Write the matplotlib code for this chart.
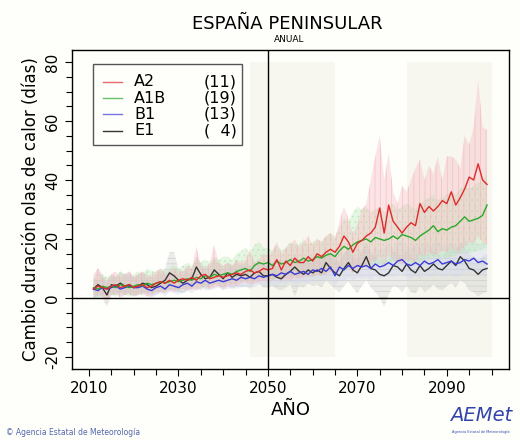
import numpy as np
import matplotlib
matplotlib.use("Agg")
import matplotlib.pyplot as plt
from matplotlib.patches import Rectangle

# Years of the projection
years = list(range(2011, 2100))

# Ensemble means (change in heat wave duration, days)
a2_mean = [3, 4, 3.5, 3, 4, 4.5, 3.5, 4, 4.5, 3.5,
           4, 4.5, 3.5, 4, 5, 5.5, 5, 6, 5, 6,
           6.5, 6, 7, 6, 7.5, 8, 6.5, 7, 7.5, 7,
           7.5, 8, 8.5, 8, 9, 9.5, 8.5, 9, 10, 9.5,
           10, 13, 9.5, 12.5, 11, 13.5, 12, 12, 14, 12.5,
           15, 14, 15.5, 16.5, 15.5, 17.5, 21, 19, 15.5, 18.5,
           19.5, 21, 22, 24, 30.5, 22, 31.5, 26, 24, 22,
           24, 25.5, 24.5, 32, 29, 31, 29.5, 31, 33, 32,
           36, 31.5, 34, 37, 41, 40, 45.5, 40, 38.5]
a1b_mean = [3.5, 3, 4, 3.5, 4, 3.5, 4.5, 4, 3.5, 4,
            4.5, 4, 5, 4.5, 5, 5.5, 5, 5.5, 6, 5.5,
            6, 6.5, 6, 7, 6.5, 7.5, 7, 8, 7.5, 8,
            8.5, 8, 9, 9.5, 10, 9, 11, 12, 11.5, 12,
            11, 12.5, 11.5, 12, 13, 12, 12.5, 13.5, 12.5, 13,
            14, 13.5, 14.5, 15, 14, 16, 17.5, 16.5, 18, 19,
            19.5, 20, 19, 20.5, 20, 19.5, 20, 21, 20, 21.5,
            21, 20.5, 19.5, 21, 22, 23, 24.5, 22.5, 23.5, 23,
            24, 24.5, 26, 27.5, 26, 26.5, 27, 28, 31.5]
b1_mean = [3, 2.5, 3.5, 3, 3.5, 4, 3, 3.5, 4, 3.5,
           3.5, 4, 3, 2.5, 3.5, 4, 3, 4.5, 4, 3.5,
           4.5, 5, 4, 5.5, 5, 6, 5, 5.5, 6, 5.5,
           6, 6.5, 6, 7, 6.5, 7, 6.5, 7.5, 7, 7.5,
           8, 7.5, 8.5, 8, 9, 8, 8.5, 9, 8, 9.5,
           9, 10, 9, 10.5, 7.5, 10.5, 9.5, 11, 10, 11,
           10.5, 11, 10, 11.5, 10.5, 11, 12, 11, 12.5, 13,
           11.5, 11, 12, 11, 12.5, 11.5, 12, 13, 11.5, 12,
           12.5, 11.5, 12, 13, 12.5, 13.5, 12, 12.5, 11.5]
e1_mean = [3, 4.5, 3.5, 1, 4.5, 4, 5, 4, 4.5, 3.5,
           4, 5, 4.5, 3.5, 4, 5, 6, 8.5, 7.5, 6,
           5, 6, 6.5, 10.5, 8, 6.5, 7, 9.5, 8, 6.5,
           8.5, 7, 8, 7.5, 8, 7, 8.5, 9, 7.5, 7.5,
           8, 7, 6.5, 8, 9, 10.5, 9, 8, 9.5, 8.5,
           9.5, 8.5, 12, 10, 8.5, 7.5, 10, 12, 9.5, 8.5,
           11, 14, 10, 9.5, 8, 7.5, 8.5, 11, 10.5, 9,
           11.5, 9.5, 8.5, 11, 9, 10, 11.5, 10, 9.5, 11,
           12.5, 11, 14, 12.5, 10, 9.5, 8, 9.5, 10]

# Ensemble spread (upper / lower envelopes)
a2_hi = [8, 10, 7, 6, 8, 9, 7, 8, 9, 7,
         8, 9, 7, 8, 9, 10, 8, 9, 10, 9,
         9, 11, 10, 17.5, 11, 10, 12, 18, 12, 11,
         12, 11, 13, 12, 13, 16.5, 12, 13, 15, 14,
         16, 19, 15, 17, 18, 20, 17, 19, 21, 18,
         20, 19, 21, 22, 20, 26, 31, 27, 22, 25,
         30, 32, 40, 48, 55, 40, 49, 36, 32, 38,
         36, 40, 44, 47, 40, 45, 42, 48, 40, 48,
         48, 47, 44, 55, 52, 58, 74, 58, 57]
a2_lo = [0, 1, 0.5, -1, 1, 1.5, 0, 1, 1.5, 0.5,
         1, 1.5, 0.5, 1, 2, 2, 1.5, 2.5, 2, 2.5,
         3, 2.5, 3, 2.5, 3.5, 4, 3, 3.5, 4, 3.5,
         4, 4.5, 4, 5, 5.5, 4.5, 5, 5.5, 6, 5.5,
         6, 7, 5.5, 6.5, 6, 7, 6.5, 7, 7.5, 7,
         8, 7.5, 8, 9, 8.5, 9, 11, 10, 8.5, 10,
         10.5, 11, 12, 12.5, 14, 11, 15, 13, 12, 11.5,
         12.5, 13, 12, 15, 14, 15.5, 14.5, 15, 16, 15.5,
         17, 15.5, 16, 17.5, 19, 18.5, 21, 19, 18]
a1b_hi = [7, 6, 8, 7, 8, 7, 9, 8, 7, 8,
          9, 8, 10, 9, 9, 10, 9, 10, 11, 10,
          11, 12, 11, 13, 12, 13, 12, 14, 13, 14,
          14, 13, 15, 16, 17, 15, 18, 19, 17, 17,
          16, 18, 16, 17, 19, 18, 18, 20, 18, 19,
          20, 19, 21, 22, 21, 24, 27, 26, 29, 31,
          30, 31, 29, 30, 31, 29, 30, 32, 30, 31,
          32, 31, 30, 32, 33, 34, 35, 33, 34, 35,
          36, 35, 37, 38, 37, 38, 39, 40, 42]
a1b_lo = [0.5, 0, 1, 0.5, 1, 0.5, 1.5, 1, 0.5, 1,
          1.5, 1, 2, 1.5, 2, 2.5, 2, 2.5, 3, 2.5,
          3, 3.5, 3, 3.5, 3, 4, 3.5, 4.5, 4, 4.5,
          5, 4.5, 5, 5.5, 6, 5, 6.5, 7, 6.5, 7,
          6, 7, 6.5, 7, 7.5, 7, 7, 8, 7, 7.5,
          8, 7.5, 8.5, 9, 8, 9, 10, 9.5, 10.5, 11,
          11, 11.5, 11, 12, 11.5, 11, 12, 12.5, 11.5, 13,
          12.5, 12, 11.5, 12.5, 13, 13.5, 14, 13, 14, 13.5,
          14, 14.5, 15, 16, 15, 15.5, 16, 16.5, 17]
b1_hi = [6, 5.5, 7, 6, 7, 7.5, 6, 6.5, 7.5, 7,
         7, 7.5, 6.5, 6, 7, 8, 6.5, 8, 7.5, 7,
         8, 9, 8, 9.5, 9, 10, 9, 9.5, 10, 9.5,
         10, 11, 10, 11.5, 10.5, 11, 10.5, 12, 11, 12,
         12.5, 12, 13, 12.5, 14, 12.5, 13, 14, 12.5, 14.5,
         14, 15, 14, 16, 13, 16, 15, 17, 15.5, 17,
         16, 17, 15.5, 17.5, 16, 17, 18, 17, 19, 19.5,
         17.5, 17, 18, 17, 19, 17.5, 18, 19.5, 17.5, 18,
         19, 17.5, 18, 19.5, 19, 20, 18, 19, 18]
b1_lo = [0.5, 0, 1, 0.5, 1, 1.5, 0.5, 1, 1.5, 1,
         1, 1.5, 0.5, 0, 1, 1.5, 0.5, 2, 1.5, 1,
         2, 2.5, 1.5, 3, 2.5, 3.5, 2.5, 3, 3.5, 3,
         3, 3.5, 3, 4, 3.5, 4, 3.5, 4.5, 4, 4.5,
         4.5, 4, 5, 4.5, 5.5, 4.5, 5, 5.5, 4.5, 6,
         5.5, 6, 5.5, 6.5, 4, 6.5, 5.5, 7, 6, 7,
         6.5, 7, 6, 7.5, 6.5, 7, 7.5, 7, 8, 8.5,
         7, 6.5, 7.5, 6.5, 8, 7, 7.5, 8.5, 7, 7.5,
         8, 7, 7.5, 8.5, 8, 9, 7.5, 8, 7]
e1_hi = [6, 10, 8, 5, 8, 7, 9, 8, 9, 7,
         8, 9, 8, 7, 8, 9, 10, 15.5, 15.5, 10,
         9, 10, 10, 14, 12, 10, 11, 13, 12, 10,
         12, 11, 12, 11, 12, 11, 12, 13, 11, 11,
         12, 11, 10, 12, 13, 15, 13, 12, 14, 12,
         14, 13, 17, 15, 13, 12, 15, 17, 14, 13,
         16, 19, 15, 14, 13, 12, 13, 16, 15, 14,
         16, 14, 13, 16, 14, 15, 16, 15, 14, 16,
         17, 16, 19, 17, 15, 14, 13, 14, 15]
e1_lo = [0, 0.5, 0, -3, 1, 1, 2, 1, 1.5, 0.5,
         1, 2, 1.5, 0.5, 1, 2, 2.5, 3, 2.5, 2,
         1.5, 2.5, 3, 5, 4, 2.5, 3, 5, 4, 2.5,
         4, 3, 4, 3.5, 4, 3, 4.5, 5, 3.5, 3.5,
         4, 3, 2.5, 3.5, 4.5, 0.5, 4, 3.5, 5, 4,
         4.5, 3.5, 6, 4.5, 3, 2, 4, 5.5, 3.5, 1.5,
         4, 6, 3.5, 2, 0, -3, 1, 4, 3.5, 2,
         4, 2, 1.5, 4, 2, 3, 4.5, 3, 2.5, 4,
         5, 3.5, 6, 5, 2.5, 2, 0.5, 1.5, 2]

scenarios = ["A2", "A1B", "B1", "E1"]
n_models = ["(11)", "(19)", "(13)", "(  4)"]
periods = [(2046, 2065), (2081, 2100)]

line_colors = ["#e02a2a", "#2aa82a", "#3a3ad8", "#333333"]
band_colors = ["#f6b4bc", "#b4e8b4", "#cdd6f2", "#c8c8c8"]
band_hatch = ["|||", "...", None, "---"]

fig = plt.figure(figsize=(5.2, 4.4), dpi=100, facecolor="#fefefb")
ax = fig.add_axes([0.1385, 0.1614, 0.8403, 0.725])
ax.set_facecolor("#fefefb")

# future periods highlighted
for p0, p1 in periods:
    ax.fill_between([p0, p1], -20, 80, color="#f7f7ef", lw=0, zorder=0)

means = [a2_mean, a1b_mean, b1_mean, e1_mean]
his = [a2_hi, a1b_hi, b1_hi, e1_hi]
los = [a2_lo, a1b_lo, b1_lo, e1_lo]

plt.rcParams["hatch.linewidth"] = 0.4
for k in [3, 2, 1, 0]:
    plt.rcParams["hatch.color"] = band_colors[k]
    ax.fill_between(years, los[k], his[k], facecolor=band_colors[k],
                    alpha=0.35, lw=0, zorder=1)
    if band_hatch[k]:
        ax.fill_between(years, los[k], his[k], facecolor="none",
                        edgecolor=band_colors[k], hatch=band_hatch[k],
                        lw=0, zorder=1)

for k in [3, 2, 1, 0]:
    ax.plot(years, means[k], color=line_colors[k], lw=1.0, zorder=3)

ax.axvline(2050, color="black", lw=1, zorder=4)
ax.axhline(0, color="black", lw=1, zorder=4)

ax.set_xlim(2006.2, 2103.9)
ax.set_ylim(-24.1, 84.1)
ax.set_xticks(np.arange(2010, 2101, 20))
ax.set_xticks(np.arange(2010, 2101, 5), minor=True)
ax.set_yticks(np.arange(-20, 81, 20))
ax.set_yticks(np.arange(-20, 81, 5), minor=True)
ax.set_yticklabels([str(v) for v in range(-20, 81, 20)], rotation=90, va="center")
ax.tick_params(which="both", direction="out", labelsize=11, length=5, width=0.8)
ax.tick_params(which="minor", length=4)
for s in ax.spines.values():
    s.set_linewidth(1)

ax.set_xlabel("AÑO", fontsize=13, labelpad=4)
ax.set_ylabel("Cambio duración olas de calor (días)", fontsize=12, labelpad=4)

fig.text(0.553, 0.945, "ESPAÑA PENINSULAR", ha="center", va="center", fontsize=13)
fig.text(0.557, 0.911, "ANUAL", ha="center", va="center", fontsize=6.5)

# legend box drawn by hand so counts line up on the right
ax.add_patch(Rectangle((0.048, 0.702), 0.341, 0.254, transform=ax.transAxes,
                       facecolor="#fefefb", edgecolor="#555555", lw=1, zorder=5))
for i, (name, cnt) in enumerate(zip(scenarios, n_models)):
    yy = 0.9 - i * 0.051
    ax.plot([0.071, 0.114], [yy, yy], transform=ax.transAxes,
            color=line_colors[i], lw=1, alpha=0.7 if i < 3 else 1, zorder=6)
    ax.text(0.142, yy, name, transform=ax.transAxes, fontsize=11.5,
            va="center", ha="left", zorder=6)
    ax.text(0.377, yy, cnt, transform=ax.transAxes, fontsize=11.5,
            va="center", ha="right", zorder=6)

fig.text(0.012, 0.018, "© Agencia Estatal de Meteorología", fontsize=5.5,
         color="#5566aa", ha="left", va="center")
fig.text(0.925, 0.055, "AEMet", fontsize=14, color="#3344aa", style="italic",
         ha="center", va="center")
fig.text(0.925, 0.018, "Agencia Estatal de Meteorología", fontsize=2.5,
         color="#3344aa", ha="center", va="center")

fig.savefig("out.png", dpi=100, facecolor=fig.get_facecolor())
